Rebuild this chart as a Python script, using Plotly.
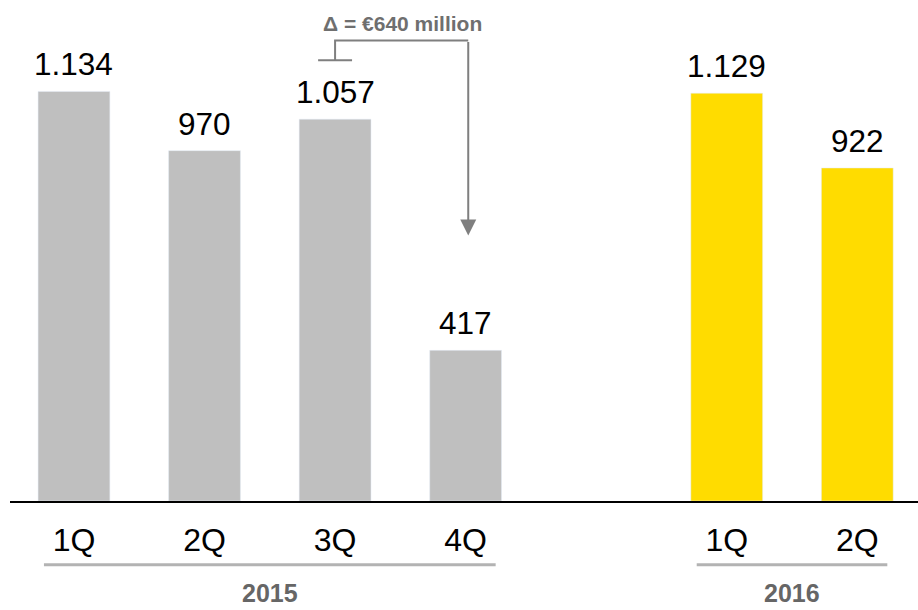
import plotly.graph_objects as go

# quarterly values (€ million), 2015 and 2016
quarters_2015 = ["1Q", "2Q", "3Q", "4Q"]
values_2015 = [1134, 970, 1057, 417]
quarters_2016 = ["1Q", "2Q"]
values_2016 = [1129, 922]
years = ["2015", "2016"]
delta_label = "Δ = €640 million"

GREY = "#bfbfbf"
YELLOW = "#ffdc00"
FONT = "Liberation Sans, Arial, sans-serif"

# x slots: one empty slot between the two years
pos_2015 = [0, 1, 2, 3]
pos_2016 = [5, 6]
X_RANGE = [-0.49, 6.465]
Y_RANGE = [0, 1387]


def to_paper(x):
    return (x - X_RANGE[0]) / (X_RANGE[1] - X_RANGE[0])


fig = go.Figure()
fig.add_trace(go.Bar(x=pos_2015, y=values_2015, marker_color=GREY, width=0.55,
                     hoverinfo="skip"))
fig.add_trace(go.Bar(x=pos_2016, y=values_2016, marker_color=YELLOW, width=0.55,
                     hoverinfo="skip"))

annotations = []
for x, v in zip(pos_2015 + pos_2016, values_2015 + values_2016):
    annotations.append(dict(x=x, y=v, text=f"{v:,}".replace(",", "."), showarrow=False,
                            yanchor="bottom", yshift=7,
                            font=dict(family=FONT, size=31.5, color="#000000")))

shapes = []
for name, pos in zip(years, [pos_2015, pos_2016]):
    shapes.append(dict(type="line", xref="paper", yref="paper",
                       x0=to_paper(pos[0] - 0.23), x1=to_paper(pos[-1] + 0.23),
                       y0=-0.127, y1=-0.127, line=dict(color="#b3b3b3", width=3)))
    # keep the year box inside the page bottom
    annotations.append(dict(x=sum(pos) / len(pos), y=-0.2165, xref="x", yref="paper",
                            text=f"<b>{name}</b>", showarrow=False, yanchor="bottom",
                            font=dict(family=FONT, size=25, color="#666666")))

# delta bracket from 3Q over to 4Q
x3, x4 = pos_2015[2], pos_2015[3]
ARROW = "#7f7f7f"
shapes.append(dict(type="line", x0=x3 - 0.13, x1=x3 + 0.13, y0=1220, y1=1220,
                   line=dict(color=ARROW, width=2)))
shapes.append(dict(type="path", path=f"M {x3},1220 L {x3},1275 L {x4 + 0.02},1275",
                   line=dict(color=ARROW, width=2)))
annotations.append(dict(x=x4 + 0.02, y=735, ax=x4 + 0.02, ay=1275, axref="x", ayref="y",
                        text="", showarrow=True, arrowhead=2, arrowsize=1.6,
                        arrowwidth=2, arrowcolor=ARROW))
annotations.append(dict(x=(x3 + x4) / 2 + 0.02, y=1322, text=f"<b>{delta_label}</b>",
                        showarrow=False, yanchor="middle",
                        font=dict(family=FONT, size=21, color="#6f6f6f")))

fig.update_layout(
    width=918, height=610,
    margin=dict(l=10, r=0, t=0, b=109),
    paper_bgcolor="white", plot_bgcolor="white",
    showlegend=False,
    font=dict(family=FONT),
    xaxis=dict(range=X_RANGE, tickvals=pos_2015 + pos_2016,
               ticktext=quarters_2015 + quarters_2016,
               tickfont=dict(family=FONT, size=32, color="#000000"),
               ticks="outside", ticklen=10, tickcolor="rgba(0,0,0,0)",
               showline=True, linecolor="#000000", linewidth=2,
               showgrid=False, zeroline=False, fixedrange=True),
    yaxis=dict(range=Y_RANGE, visible=False, fixedrange=True),
    annotations=annotations,
    shapes=shapes,
)

# drop the browser's default body margin so the figure sits at the page corner
fig.write_html("out.html", config={"displayModeBar": False},
               post_script="document.body.style.margin='0';")
